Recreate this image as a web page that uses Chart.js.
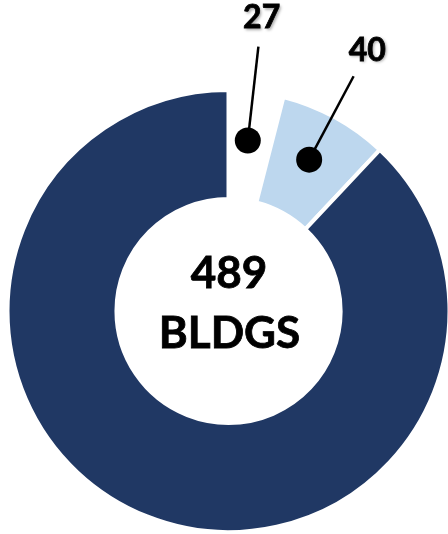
<!DOCTYPE html>
<html>
<head>
<meta charset="utf-8">
<script src="https://cdn.jsdelivr.net/npm/chart.js@4/dist/chart.umd.min.js"></script>
<style>
  html, body { margin: 0; padding: 0; background: #ffffff; }
  #wrap { width: 448px; height: 534px; position: relative; }
</style>
</head>
<body>
<div id="wrap"><canvas id="donut"></canvas></div>
<script>
// --- data ---
// slice sizes follow the drawn angles; label text is what the callouts show
const sliceNames = ['Gap', 'Small', 'Rest'];
const sliceValues = [20, 40, 440];
const sliceColors = ['#ffffff', '#bdd7ee', '#203864'];
const calloutText = ['27', '40', null];
const centerLines = ['489', 'BLDGS'];

// callouts: dot in the ring, radial leader, text above it
const calloutPlugin = {
    id: 'callouts',
    afterDraw(chart) {
        const ctx = chart.ctx;
        const arcs = chart.getDatasetMeta(0).data;
        arcs.forEach((arc, i) => {
            const txt = calloutText[i];
            if (!txt) return;
            const p = arc.getProps(['x', 'y', 'startAngle', 'endAngle', 'innerRadius', 'outerRadius'], true);
            const a = (p.startAngle + p.endAngle) / 2 - 0.013;
            const rDot = (p.innerRadius + p.outerRadius) / 2 + 5;
            const px = r => p.x + Math.cos(a) * r;
            const py = r => p.y + Math.sin(a) * r;

            ctx.save();
            ctx.strokeStyle = '#000';
            ctx.lineWidth = 2.5;
            ctx.beginPath();
            ctx.moveTo(px(rDot), py(rDot));
            ctx.lineTo(px(p.outerRadius + 45), py(p.outerRadius + 45));
            ctx.stroke();

            ctx.fillStyle = '#000';
            ctx.beginPath();
            ctx.arc(px(rDot), py(rDot), 13, 0, Math.PI * 2);
            ctx.fill();

            ctx.shadowColor = 'rgba(0,0,0,0.35)';
            ctx.shadowBlur = 3;
            ctx.shadowOffsetX = 1.5;
            ctx.shadowOffsetY = 1.5;
            ctx.font = 'bold 32px Lato';
            ctx.textAlign = 'center';
            ctx.textBaseline = 'middle';
            ctx.lineWidth = 0.8;
            const tx = px(p.outerRadius + 74), ty = py(p.outerRadius + 74);
            ctx.fillText(txt, tx, ty);
            ctx.shadowColor = 'transparent';
            ctx.strokeText(txt, tx, ty);
            ctx.restore();
        });

        // center text
        const c = arcs[0];
        ctx.save();
        ctx.fillStyle = '#000';
        ctx.strokeStyle = '#000';
        ctx.lineWidth = 0.8;
        ctx.font = 'bold 44px Lato';
        ctx.textAlign = 'center';
        ctx.textBaseline = 'middle';
        ctx.fillText(centerLines[0], c.x + 0.5, c.y - 37);
        ctx.strokeText(centerLines[0], c.x + 0.5, c.y - 37);
        ctx.fillText(centerLines[1], c.x + 1, c.y + 23);
        ctx.strokeText(centerLines[1], c.x + 1, c.y + 23);
        ctx.restore();
    }
};

new Chart(document.getElementById('donut'), {
    type: 'doughnut',
    data: {
        labels: sliceNames,
        datasets: [{
            data: sliceValues,
            backgroundColor: sliceColors,
            borderColor: '#ffffff',
            borderWidth: 4,
            borderAlign: 'center',
            hoverOffset: 0
        }]
    },
    options: {
        responsive: true,
        maintainAspectRatio: false,
        animation: false,
        rotation: 0,
        cutout: '50.7%',
        radius: 221,
        layout: { padding: { left: 9, right: 0, top: 88, bottom: 0 } },
        plugins: {
            legend: { display: false },
            tooltip: { enabled: false }
        }
    },
    plugins: [calloutPlugin]
});
</script>
</body>
</html>
